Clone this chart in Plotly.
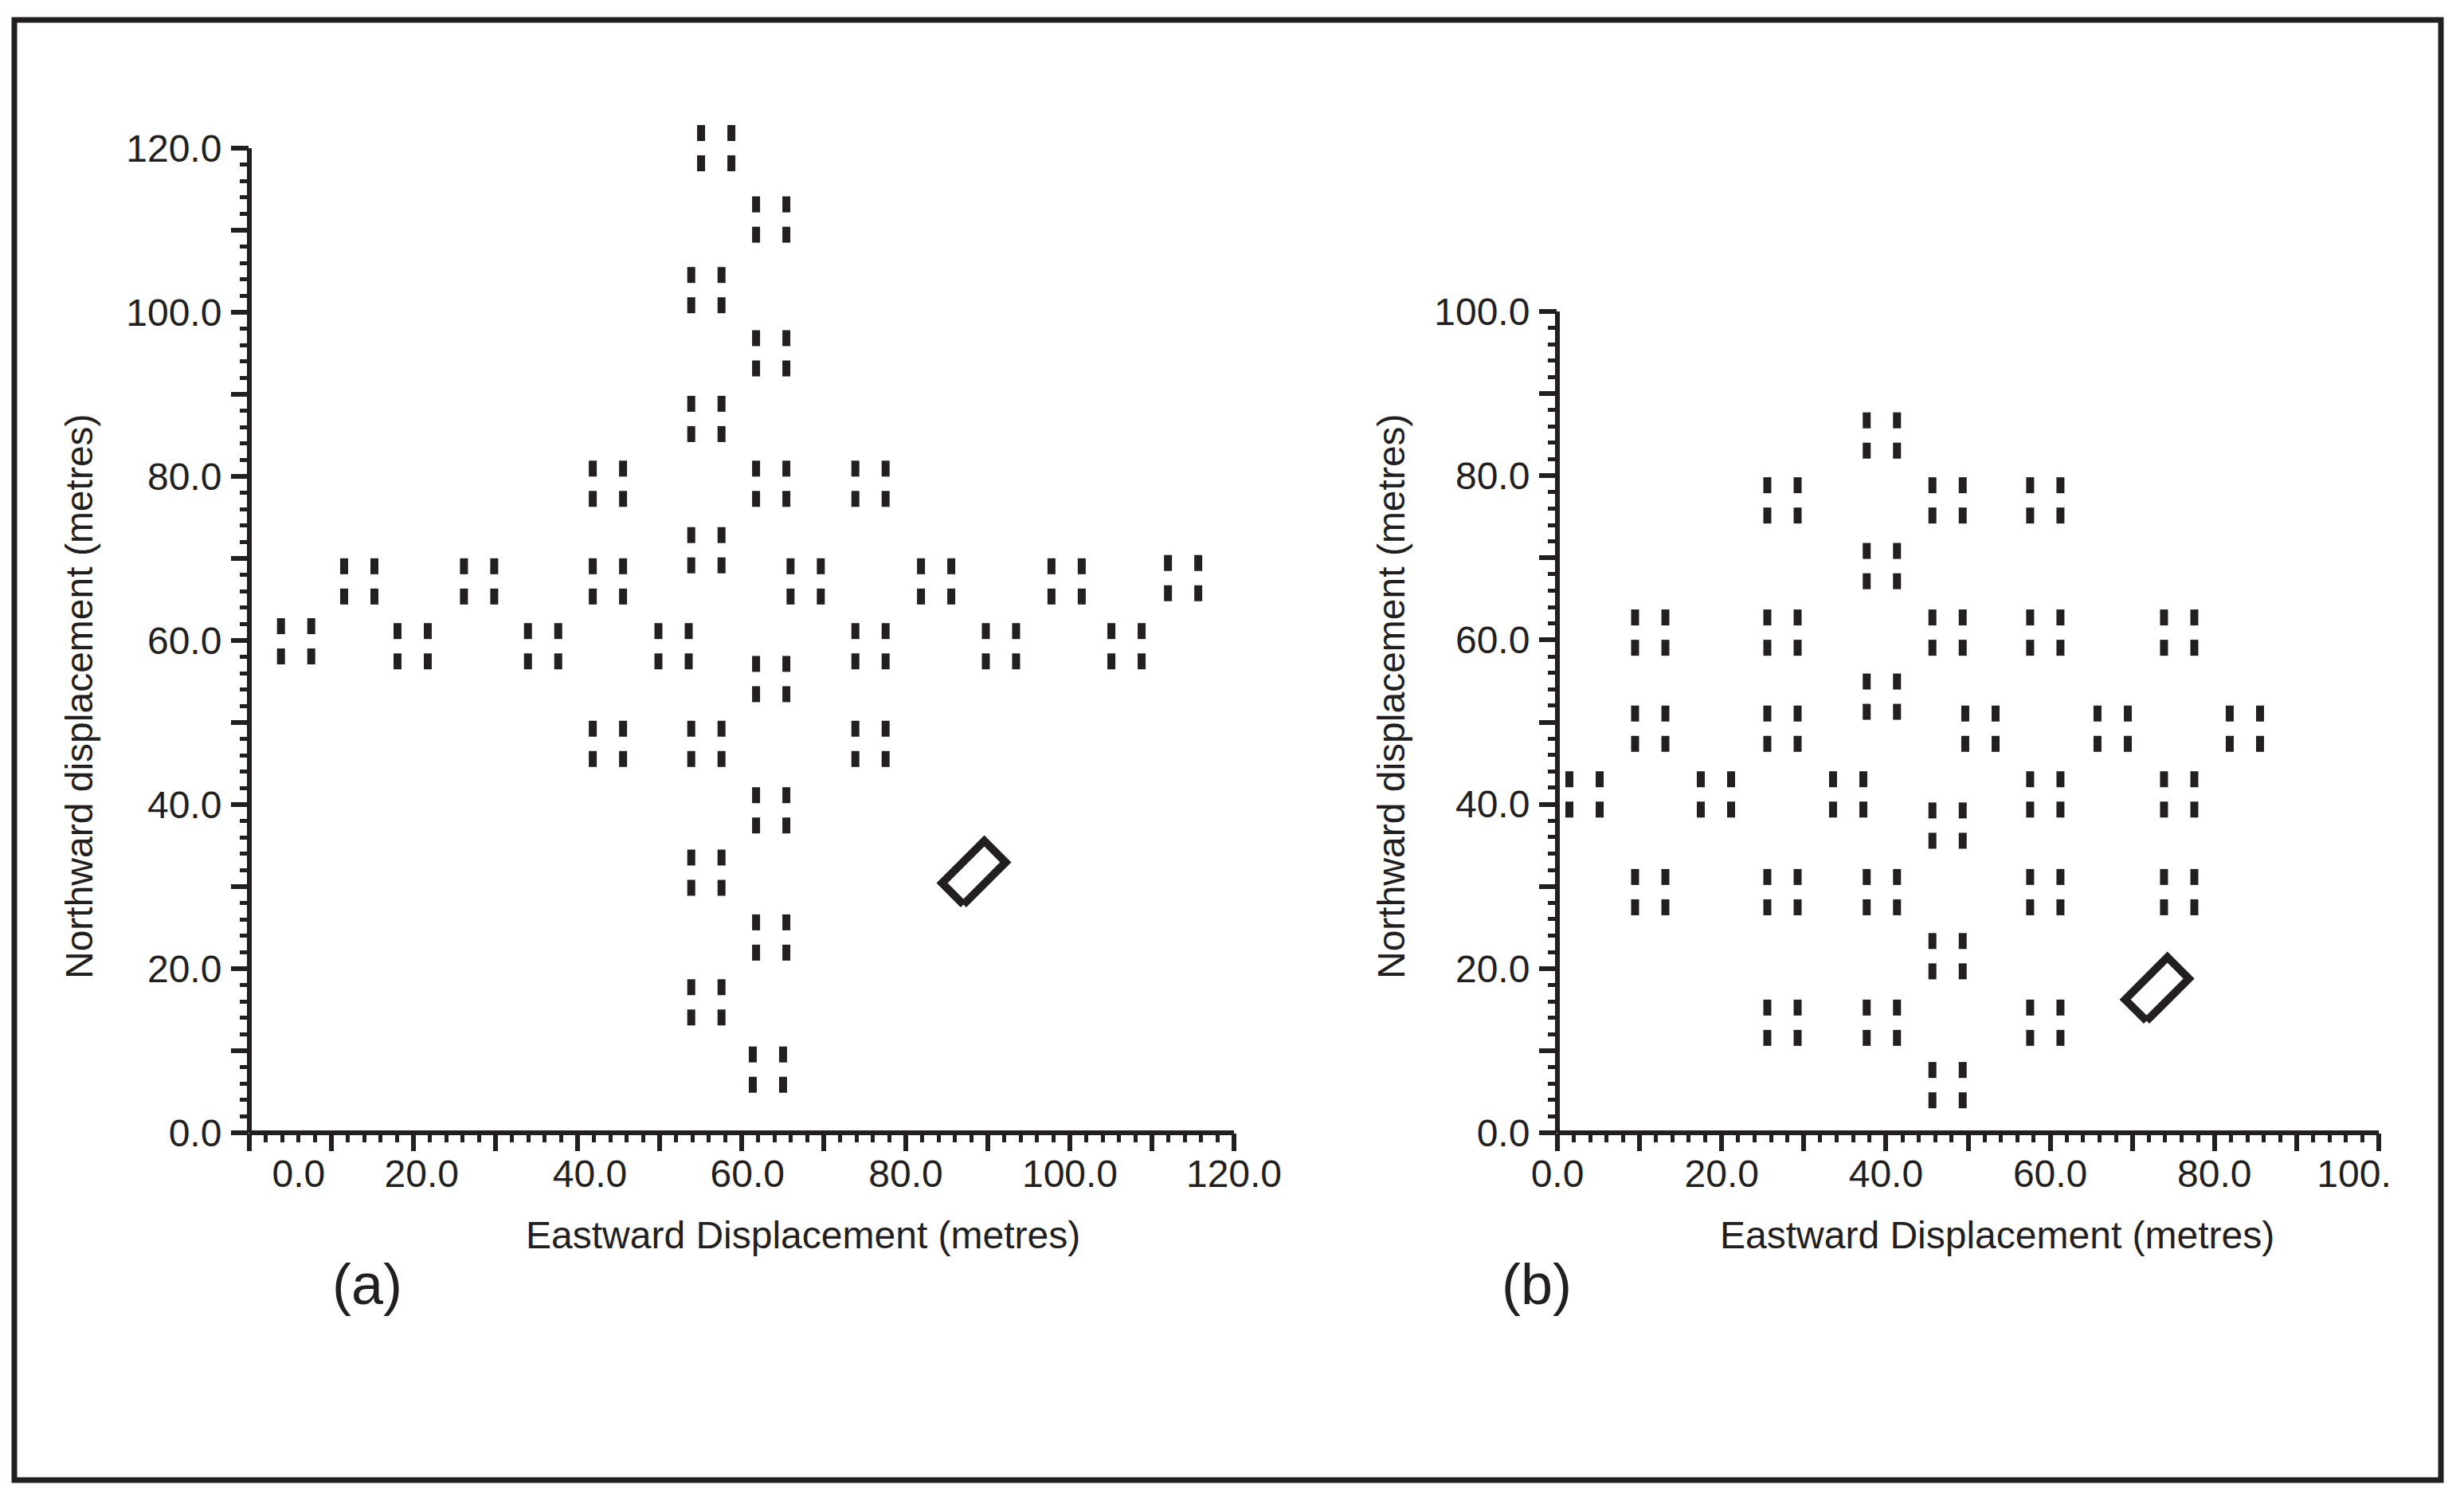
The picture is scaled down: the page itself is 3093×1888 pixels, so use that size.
import numpy as np
import plotly.graph_objects as go

# Station positions (group centres), metres
a_east = [56.9, 63.6, 55.7, 63.6, 55.7, 63.6, 55.7, 67.8, 63.6, 55.7, 63.6, 55.7, 63.6, 55.7, 63.2,
          5.7, 13.4, 19.9, 28.0, 35.8, 43.7, 43.7, 43.7, 51.7, 75.7, 75.7, 75.7, 83.7, 91.6, 99.6, 106.9, 113.8]
a_north = [120.0, 111.3, 102.7, 95.0, 87.0, 79.1, 71.0, 67.2, 55.3, 47.4, 39.3, 31.7, 23.8, 15.9, 7.7,
           59.9, 67.2, 59.3, 67.2, 59.3, 67.2, 79.1, 47.4, 59.3, 79.1, 59.3, 47.4, 67.2, 59.3, 67.2, 59.3, 67.6]

b_east = [39.5, 27.4, 47.5, 59.4, 39.5, 11.3, 27.4, 47.5, 59.4, 75.7, 39.5, 11.3, 27.4, 51.5, 67.6, 83.7,
          3.3, 19.3, 35.4, 59.4, 75.7, 47.5, 11.3, 27.4, 39.5, 59.4, 75.7, 47.5, 27.4, 39.5, 59.4, 47.5]
b_north = [84.9, 77.0, 77.0, 77.0, 69.0, 60.9, 60.9, 60.9, 60.9, 60.9, 53.1, 49.2, 49.2, 49.2, 49.2, 49.2,
           41.2, 41.2, 41.2, 41.2, 41.2, 37.4, 29.3, 29.3, 29.3, 29.3, 29.3, 21.5, 13.4, 13.4, 13.4, 5.8]

# Source (rectangle) centres
a_source = (88.3, 31.7)
b_source = (73.0, 17.5)

# Tick labels
a_xlabels = ["0.0", "20.0", "40.0", "60.0", "80.0", "100.0", "120.0"]
a_xlabel_pos = [6, 21, 41.5, 60.7, 80, 100, 120]
b_xlabels = ["0.0", "20.0", "40.0", "60.0", "80.0", "100."]
b_xlabel_pos = [0, 20, 40, 60, 80, 97]

# page has an 8px body margin, so the figure is made 16px smaller and shifted
BODY = 8
W, H = 3093 - 2 * BODY, 1888 - 2 * BODY
INK = "#231f20"
FONT = "Liberation Sans, Arial, sans-serif"
PX = 10.3  # pixels per metre
OFF = 19 / PX   # bar offset inside a station symbol
HALF = 10 / PX  # half bar length
A_TOP = 125     # panel (a) y-range head room so the top station is not clipped


def fx(px):
    return (px - BODY) / W


def fy(py):
    return 1 - (py - BODY) / H


def bars(east, north):
    # each station: four short vertical bars, drawn as separate line segments
    xs, ys = [], []
    for e, n in zip(east, north):
        for dx in (-OFF, OFF):
            for dy in (-OFF, OFF):
                xs += [e + dx, e + dx, None]
                ys += [n + dy - HALF, n + dy + HALF, None]
    return xs, ys


def rect(cx, cy, length=75 / PX, width=38 / PX, ang=45):
    t = np.deg2rad(ang)
    c, s = np.cos(t), np.sin(t)
    pts = [(-length / 2, -width / 2), (length / 2, -width / 2), (length / 2, width / 2),
           (-length / 2, width / 2), (-length / 2, -width / 2)]
    return [cx + p * c - q * s for p, q in pts], [cy + p * s + q * c for p, q in pts]


fig = go.Figure()

for (east, north, src, xa, ya) in [(a_east, a_north, a_source, "x", "y"),
                                   (b_east, b_north, b_source, "x2", "y2")]:
    bx, by = bars(east, north)
    fig.add_trace(go.Scatter(x=bx, y=by, xaxis=xa, yaxis=ya, mode="lines",
                             line=dict(color=INK, width=10), connectgaps=False,
                             hoverinfo="skip", showlegend=False))
    rx, ry = rect(*src)
    fig.add_trace(go.Scatter(x=rx, y=ry, xaxis=xa, yaxis=ya, mode="lines",
                             line=dict(color=INK, width=10), hoverinfo="skip", showlegend=False))

# invisible traces so the label-only axes get drawn
fig.add_trace(go.Scatter(x=[0], y=[0], xaxis="x3", yaxis="y", mode="markers",
                         marker=dict(opacity=0), hoverinfo="skip", showlegend=False))
fig.add_trace(go.Scatter(x=[0], y=[0], xaxis="x4", yaxis="y2", mode="markers",
                         marker=dict(opacity=0), hoverinfo="skip", showlegend=False))


def ylabels(top):
    vals = list(range(0, top + 1, 10))
    return vals, [f"{v:.1f}" if v % 20 == 0 else "" for v in vals]


def minor(top):
    return dict(tickmode="array", tickvals=[v for v in range(0, top + 1, 2) if v % 10],
                ticks="outside", ticklen=11, tickwidth=5, tickcolor=INK)


tickfont = dict(family=FONT, size=48, color=INK)
axis_common = dict(showline=False, ticks="outside", ticklen=22, tickwidth=6, tickcolor=INK,
                   showgrid=False, zeroline=False, automargin=False)
label_axis = dict(side="bottom", ticks="", showline=False, showgrid=False, zeroline=False,
                  automargin=False, tickfont=tickfont, ticklabelstandoff=19)

ya_vals, ya_text = ylabels(120)
yb_vals, yb_text = ylabels(100)

fig.update_layout(
    template="none",
    width=W, height=H, margin=dict(l=0, r=0, t=0, b=0, pad=0, autoexpand=False),
    paper_bgcolor="white", plot_bgcolor="white", showlegend=False,
    xaxis=dict(domain=[fx(313), fx(1549)], range=[0, 120], anchor="y", tickvals=list(range(0, 121, 10)),
               showticklabels=False, minor=minor(120), **axis_common),
    yaxis=dict(domain=[fy(1422), fy(1422 - A_TOP * PX)], range=[0, A_TOP], anchor="x",
               tickvals=ya_vals, ticktext=ya_text, tickfont=tickfont, ticklabelstandoff=2,
               minor=minor(120), **axis_common),
    xaxis2=dict(domain=[fx(1955), fx(2986)], range=[0, 100], anchor="y2", tickvals=list(range(0, 101, 10)),
                showticklabels=False, minor=minor(100), **axis_common),
    yaxis2=dict(domain=[fy(1422), fy(391)], range=[0, 100], anchor="x2", tickvals=yb_vals, ticktext=yb_text,
                tickfont=tickfont, ticklabelstandoff=2, minor=minor(100), **axis_common),
    xaxis3=dict(overlaying="x", anchor="y", range=[0, 120], tickvals=a_xlabel_pos, ticktext=a_xlabels,
                **label_axis),
    xaxis4=dict(overlaying="x2", anchor="y2", range=[0, 100], tickvals=b_xlabel_pos, ticktext=b_xlabels,
                **label_axis),
)

# axis lines (stop at the last labelled tick)
axis_line = dict(color=INK, width=6)
for xa, ya, ytop in [("x", "y", 120 / A_TOP), ("x2", "y2", 1.0)]:
    fig.add_shape(type="line", xref=f"{xa} domain", yref=f"{ya} domain", x0=0, x1=1, y0=0, y1=0,
                  line=axis_line)
    fig.add_shape(type="line", xref=f"{xa} domain", yref=f"{ya} domain", x0=0, x1=0, y0=0, y1=ytop,
                  line=axis_line)

title_font = dict(family=FONT, size=48, color=INK)
for x, txt in [(1008, "Eastward Displacement (metres)"), (2507, "Eastward Displacement (metres)")]:
    fig.add_annotation(x=fx(x), y=fy(1550), xref="paper", yref="paper", text=txt,
                       showarrow=False, font=title_font, xanchor="center", yanchor="middle")
for x in (99, 1746):
    fig.add_annotation(x=fx(x), y=fy(874), xref="paper", yref="paper",
                       text="Northward displacement (metres)", textangle=-90,
                       showarrow=False, font=title_font, xanchor="center", yanchor="middle")
for x, txt in [(461, "(a)"), (1929, "(b)")]:
    fig.add_annotation(x=fx(x), y=fy(1612), xref="paper", yref="paper", text=txt,
                       showarrow=False, font=dict(family=FONT, size=72, color=INK),
                       xanchor="center", yanchor="middle")

# outer frame
fig.add_shape(type="rect", xref="paper", yref="paper", x0=fx(18), x1=fx(3064), y0=fy(1858),
              y1=fy(25), line=dict(color=INK, width=7))

fig.write_html("out.html")
